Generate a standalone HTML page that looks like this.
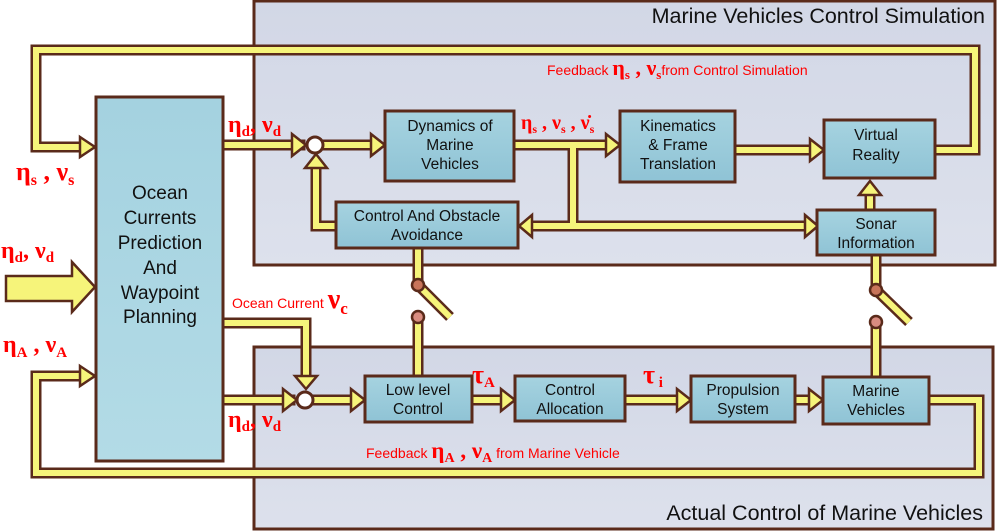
<!DOCTYPE html>
<html><head><meta charset="utf-8"><style>
html,body{margin:0;padding:0;background:#fff;}
svg{display:block;}
.bx{fill:url(#bg);stroke:#5a2a1a;stroke-width:3;}
.t{font-family:"Liberation Sans",sans-serif;font-size:15.5px;fill:#111;text-anchor:middle;}
.r{font-family:"Liberation Sans",sans-serif;font-size:14px;fill:#f00;}
.g{font-family:"Liberation Serif",serif;font-weight:bold;fill:#f00;}
.po{fill:none;stroke:#5a2a1a;stroke-width:11;stroke-linejoin:miter;stroke-linecap:square;}
.pi{fill:none;stroke:#f6f47a;stroke-width:6;stroke-linejoin:miter;stroke-linecap:square;}
.ah{fill:#f6f47a;stroke:#5a2a1a;stroke-width:2.5;stroke-linejoin:miter;}
</style></head><body>
<svg width="1000" height="531" viewBox="0 0 1000 531">
<defs>
<linearGradient id="bg" x1="0" y1="0" x2="0" y2="1"><stop offset="0" stop-color="#a6d3e0"/><stop offset="1" stop-color="#8fc3d5"/></linearGradient>
<linearGradient id="big" x1="0" y1="0" x2="0" y2="1"><stop offset="0" stop-color="#a4d2e0"/><stop offset="1" stop-color="#b3dbe6"/></linearGradient>
<linearGradient id="pan" x1="0" y1="0" x2="0" y2="1"><stop offset="0" stop-color="#d2d7e6"/><stop offset="1" stop-color="#dde1ec"/></linearGradient>
</defs>
<rect x="254" y="1" width="741" height="264" fill="url(#pan)" stroke="#5a2a1a" stroke-width="3"/>
<rect x="254" y="347" width="739" height="182" fill="url(#pan)" stroke="#5a2a1a" stroke-width="3"/>
<text x="985" y="23" font-family="Liberation Sans,sans-serif" font-size="21.5" text-anchor="end" fill="#111">Marine Vehicles Control Simulation</text>
<text x="983" y="520" font-family="Liberation Sans,sans-serif" font-size="21.5" text-anchor="end" fill="#111">Actual Control of Marine Vehicles</text>

<g class="po">
<polyline points="80,147 36,147 36,50 975,50 975,150 935,150"/>
<polyline points="223,145 300,145"/>
<polyline points="322,145 375,145"/>
<polyline points="515,145 605,145"/>
<polyline points="573,150 573,226"/>
<polyline points="530,226 805,226"/>
<polyline points="735,150 810,150"/>
<polyline points="336,226 316,226 316,167"/>
<polyline points="870,209 870,195"/>
<polyline points="418,250 418,283"/>
<polyline points="418,320 418,375"/>
<polyline points="876,257 876,288"/>
<polyline points="876,325 876,376"/>
<polyline points="223,323 306,323 306,375"/>
<polyline points="223,400 290,400"/>
<polyline points="312,400 352,400"/>
<polyline points="472,400 502,400"/>
<polyline points="625,400 678,400"/>
<polyline points="795,400 810,400"/>
<polyline points="929,400 979,400 979,473 36,473 36,376 80,376"/>
</g>
<g class="pi">
<polyline points="80,147 36,147 36,50 975,50 975,150 935,150"/>
<polyline points="223,145 300,145"/>
<polyline points="322,145 375,145"/>
<polyline points="515,145 605,145"/>
<polyline points="573,150 573,226"/>
<polyline points="530,226 805,226"/>
<polyline points="735,150 810,150"/>
<polyline points="336,226 316,226 316,167"/>
<polyline points="870,209 870,195"/>
<polyline points="418,250 418,283"/>
<polyline points="418,320 418,375"/>
<polyline points="876,257 876,288"/>
<polyline points="876,325 876,376"/>
<polyline points="223,323 306,323 306,375"/>
<polyline points="223,400 290,400"/>
<polyline points="312,400 352,400"/>
<polyline points="472,400 502,400"/>
<polyline points="625,400 678,400"/>
<polyline points="795,400 810,400"/>
<polyline points="929,400 979,400 979,473 36,473 36,376 80,376"/>
</g>
<line x1="418" y1="285" x2="450" y2="317" stroke="#5a2a1a" stroke-width="11"/>
<line x1="418" y1="285" x2="450" y2="317" stroke="#f6f47a" stroke-width="6"/>
<line x1="876" y1="290" x2="909" y2="322" stroke="#5a2a1a" stroke-width="11"/>
<line x1="876" y1="290" x2="909" y2="322" stroke="#f6f47a" stroke-width="6"/>

<g class="ah">
<polygon points="80,137 95,147 80,157"/>
<polygon points="80,366 95,376 80,386"/>
<polygon points="292,134 306,145 292,156"/>
<polygon points="371,134 385,145 371,156"/>
<polygon points="606,134 620,145 606,156"/>
<polygon points="810,139 824,150 810,161"/>
<polygon points="805,215 818,226 805,237"/>
<polygon points="532,215 519,226 532,237"/>
<polygon points="305,168 316,154 327,168"/>
<polygon points="859,195 870,181 881,195"/>
<polygon points="295,376 306,389 317,376"/>
<polygon points="283,389 297,400 283,411"/>
<polygon points="351,389 365,400 351,411"/>
<polygon points="501,389 515,400 501,411"/>
<polygon points="677,389 691,400 677,411"/>
<polygon points="809,389 823,400 809,411"/>
<polygon points="6,276 72,276 72,262 95,287 72,312 72,301 6,301"/>
</g>
<circle cx="315" cy="145" r="8" fill="#fff" stroke="#5a2a1a" stroke-width="3"/>
<circle cx="305" cy="400" r="8" fill="#fff" stroke="#5a2a1a" stroke-width="3"/>
<circle cx="418" cy="285" r="6" fill="#c8745a" stroke="#5a2a1a" stroke-width="2.5"/>
<circle cx="418" cy="317" r="6" fill="#d98c80" stroke="#5a2a1a" stroke-width="2.5"/>
<circle cx="876" cy="290" r="6" fill="#c8745a" stroke="#5a2a1a" stroke-width="2.5"/>
<circle cx="876" cy="322" r="6" fill="#d98c80" stroke="#5a2a1a" stroke-width="2.5"/>

<rect x="96" y="97" width="127" height="364" fill="url(#big)" stroke="#5a2a1a" stroke-width="3"/>
<g class="t" style="font-size:19px">
<text x="160" y="199">Ocean</text><text x="160" y="224">Currents</text><text x="160" y="249">Prediction</text><text x="160" y="274">And</text><text x="160" y="299">Waypoint</text><text x="160" y="323">Planning</text>
</g>
<rect class="bx" x="385" y="111" width="129" height="70"/>
<text class="t" x="450" y="131">Dynamics of</text><text class="t" x="450" y="150">Marine</text><text class="t" x="450" y="169">Vehicles</text>
<rect class="bx" x="620" y="111" width="115" height="71"/>
<text class="t" x="678" y="131">Kinematics</text><text class="t" x="678" y="150">&amp; Frame</text><text class="t" x="678" y="169">Translation</text>
<rect class="bx" x="824" y="120" width="111" height="58"/>
<text class="t" x="876" y="140">Virtual</text><text class="t" x="876" y="160">Reality</text>
<rect class="bx" x="336" y="202" width="182" height="46"/>
<text class="t" x="427" y="221">Control And Obstacle</text><text class="t" x="427" y="240">Avoidance</text>
<rect class="bx" x="817" y="210" width="118" height="45"/>
<text class="t" x="876" y="229">Sonar</text><text class="t" x="876" y="248">Information</text>
<rect class="bx" x="365" y="376" width="107" height="46"/>
<text class="t" x="418" y="395">Low level</text><text class="t" x="418" y="414">Control</text>
<rect class="bx" x="515" y="376" width="110" height="45"/>
<text class="t" x="570" y="395">Control</text><text class="t" x="570" y="414">Allocation</text>
<rect class="bx" x="691" y="376" width="104" height="46"/>
<text class="t" x="743" y="395">Propulsion</text><text class="t" x="743" y="414">System</text>
<rect class="bx" x="823" y="377" width="106" height="47"/>
<text class="t" x="876" y="396">Marine</text><text class="t" x="876" y="415">Vehicles</text>

<text class="g" x="228" y="132" font-size="24">η<tspan font-size="15" dy="4">d</tspan><tspan dy="-4">, ν</tspan><tspan font-size="15" dy="4">d</tspan></text>
<text class="g" x="16" y="180" font-size="26">η<tspan font-size="16" dy="5">s</tspan><tspan dy="-5"> , ν</tspan><tspan font-size="16" dy="5">s</tspan></text>
<text class="g" x="1" y="258" font-size="24">η<tspan font-size="15" dy="4">d</tspan><tspan dy="-4">, ν</tspan><tspan font-size="15" dy="4">d</tspan></text>
<text class="g" x="3" y="352" font-size="24">η<tspan font-size="15" dy="5">A</tspan><tspan dy="-5"> , ν</tspan><tspan font-size="15" dy="5">A</tspan></text>
<text class="g" x="228" y="427" font-size="24">η<tspan font-size="15" dy="4">d</tspan><tspan dy="-4">, ν</tspan><tspan font-size="15" dy="4">d</tspan></text>
<text class="g" x="521" y="129" font-size="20">η<tspan font-size="12" dy="4">s</tspan><tspan dy="-4"> , ν</tspan><tspan font-size="12" dy="4">s</tspan><tspan dy="-4"> , ν̇</tspan><tspan font-size="12" dy="4">s</tspan></text>
<text class="r" x="547" y="75">Feedback <tspan class="g" font-size="22">η</tspan><tspan class="g" font-size="13" dy="4">s</tspan><tspan class="g" font-size="22" dy="-4"> , ν</tspan><tspan class="g" font-size="13" dy="4">s</tspan><tspan dy="-4">from Control Simulation</tspan></text>
<text class="r" x="232" y="308">Ocean Current <tspan class="g" font-size="28">ν</tspan><tspan class="g" font-size="17" dy="6">c</tspan></text>
<text class="g" x="472" y="383" font-size="26">τ<tspan font-size="15" dy="4">A</tspan></text>
<text class="g" x="643" y="383" font-size="26">τ<tspan font-size="15" dy="4"> i</tspan></text>
<text class="r" x="366" y="458">Feedback <tspan class="g" font-size="23">η</tspan><tspan class="g" font-size="14" dy="4">A</tspan><tspan class="g" font-size="23" dy="-4"> , ν</tspan><tspan class="g" font-size="14" dy="4">A</tspan><tspan dy="-4"> from Marine Vehicle</tspan></text>
</svg>
</body></html>
